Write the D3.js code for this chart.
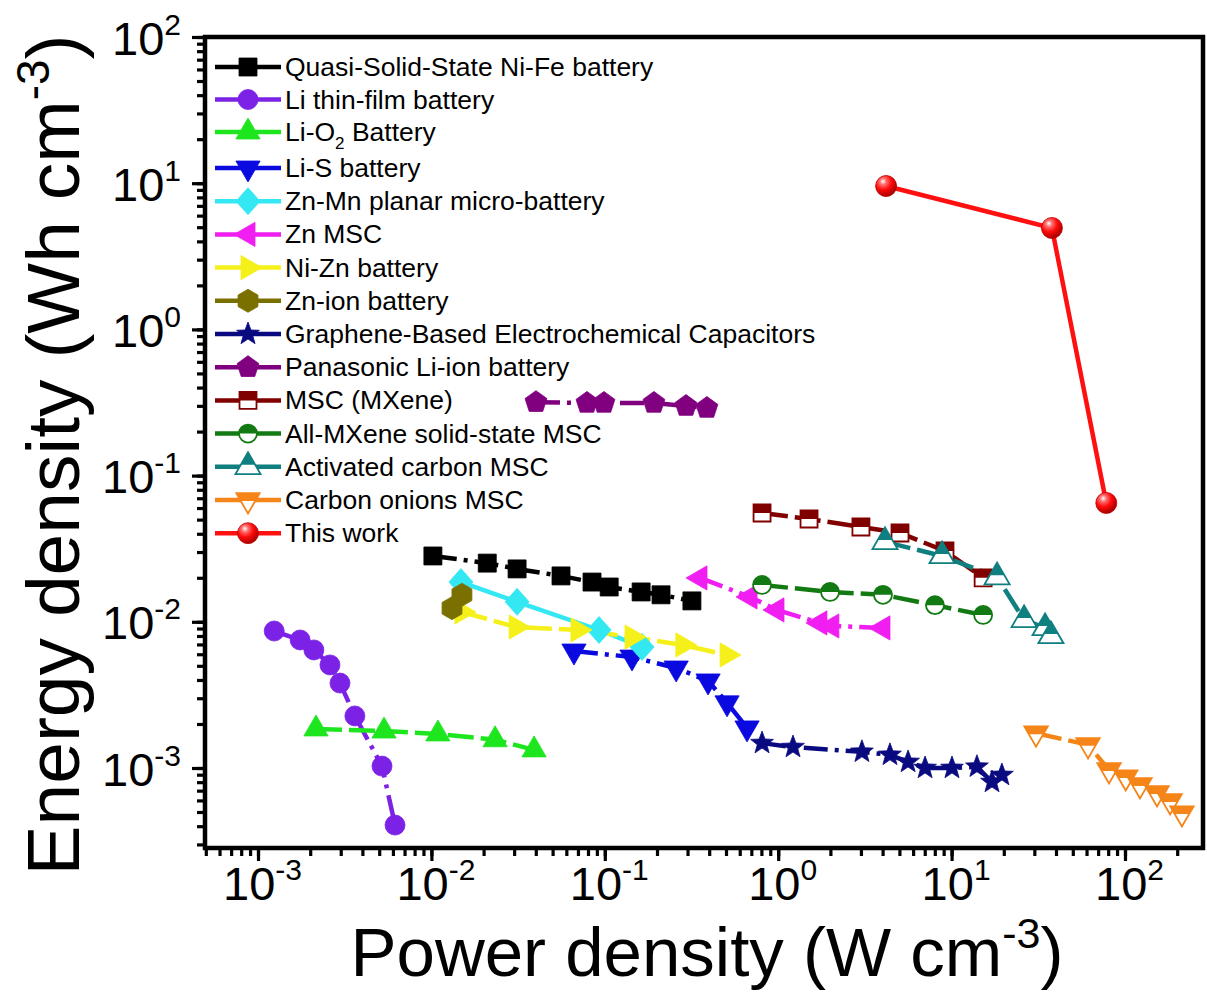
<!DOCTYPE html>
<html><head><meta charset="utf-8">
<script src="https://cdn.jsdelivr.net/npm/d3@7"></script>
<style>body{margin:0;background:#fff}svg{display:block}text{font-family:"Liberation Sans",Arial,sans-serif}</style>
</head><body>
<svg id="chart" width="1207" height="1002"></svg>
<script>
// ---------------- data ----------------
const seriesNames = [
  "Quasi-Solid-State Ni-Fe battery","Li thin-film battery","Li-O2 Battery","Li-S battery",
  "Zn-Mn planar micro-battery","Zn MSC","Ni-Zn battery","Zn-ion battery",
  "Graphene-Based Electrochemical Capacitors","Panasonic Li-ion battery","MSC (MXene)",
  "All-MXene solid-state MSC","Activated carbon MSC","Carbon onions MSC","This work"];
const seriesColors = ["#000000","#7b22e6","#1ee61e","#0a0ae0","#33e8f2","#f01ef0","#f5f01a","#7a7000",
  "#0a0a80","#800080","#800000","#137a13","#0f7f80","#f58518","#ff1010"];
const seriesMarkers = ["square","circle","triUp","triDown","diamond","triLeft","triRight","hexagon",
  "star","pentagon","squareHalf","circleHalf","triUpHalf","triDownHalf","sphere"];
const seriesDash = ["dashdot","dashdot","dash","dashdot","solid","dashdot","dash","solid",
  "dashdot","dashdot","dash","dash","dash","dash","solid"];

const niFePower = [0.0102,0.0210,0.0312,0.0559,0.0844,0.106,0.162,0.211,0.318];
const niFeEnergy = [0.0282,0.0252,0.0230,0.0206,0.0187,0.0173,0.0160,0.0153,0.0139];
const liThinPower = [0.00124,0.00175,0.00210,0.00260,0.00297,0.00362,0.00519,0.00617];
const liThinEnergy = [0.00865,0.00751,0.00642,0.00507,0.00381,0.00227,0.00103,0.000407];
const liO2Power = [0.00216,0.00533,0.0109,0.0233,0.0391];
const liO2Energy = [0.00185,0.00179,0.00171,0.00156,0.00133];
const liSPower = [0.0664,0.1435,0.258,0.394,0.507,0.661];
const liSEnergy = [0.00631,0.00574,0.00483,0.00394,0.00279,0.00188];
const znMnPower = [0.0148,0.0312,0.0927,0.164];
const znMnEnergy = [0.0187,0.0137,0.00879,0.00673];
const znMscPower = [0.354,0.688,0.984,1.74,2.04,4.02];
const znMscEnergy = [0.01995,0.01479,0.01205,0.00982,0.00936,0.00908];
const niZnPower = [0.0150,0.0308,0.0700,0.1435,0.282,0.507];
const niZnEnergy = [0.01167,0.00921,0.00879,0.00787,0.00694,0.00593];
const znIonPower = [0.0150,0.01315];
const znIonEnergy = [0.0153,0.0124];
const graphenePower = [0.807,1.217,3.04,4.41,5.61,7.03,10.05,14.0,17.1,19.5];
const grapheneEnergy = [0.00148,0.00139,0.00129,0.00123,0.00110,0.00100,0.00100,0.00102,0.000802,0.000895];
const panasonicPower = [0.0401,0.0789,0.0989,0.192,0.294,0.388];
const panasonicEnergy = [0.318,0.314,0.314,0.314,0.299,0.290];
const mxenePower = [0.807,1.506,3.00,5.04,9.16,15.2];
const mxeneEnergy = [0.0555,0.0505,0.0445,0.0405,0.0305,0.0200];
const allMxenePower = [0.807,1.99,4.02,8.02,15.2];
const allMxeneEnergy = [0.01786,0.0160,0.0153,0.0130,0.01114];
const acPower = [4.13,8.81,18.3,26.2,34.6,37.4];
const acEnergy = [0.0352,0.0282,0.0202,0.0103,0.00908,0.0080];
const onionPower = [30.7,61.2,80.9,101,122,153,182,213];
const onionEnergy = [0.00173,0.00144,0.000969,0.000867,0.000765,0.000675,0.000595,0.000492];
const thisWorkPower = [4.19,37.9,78];
const thisWorkEnergy = [9.57,4.94,0.065];

const xTickExps = [-3,-2,-1,0,1,2];
const yTickExps = [-3,-2,-1,0,1,2];

const powerArrays = [niFePower,liThinPower,liO2Power,liSPower,znMnPower,znMscPower,niZnPower,znIonPower,
  graphenePower,panasonicPower,mxenePower,allMxenePower,acPower,onionPower,thisWorkPower];
const energyArrays = [niFeEnergy,liThinEnergy,liO2Energy,liSEnergy,znMnEnergy,znMscEnergy,niZnEnergy,znIonEnergy,
  grapheneEnergy,panasonicEnergy,mxeneEnergy,allMxeneEnergy,acEnergy,onionEnergy,thisWorkEnergy];

const series = seriesNames.map((name,i)=>({
  name, color:seriesColors[i], marker:seriesMarkers[i], dash:seriesDash[i],
  pts: powerArrays[i].map((p,j)=>[p, energyArrays[i][j]])
}));

// ---------------- layout ----------------
const svg = d3.select("#chart");
const frame = {left:205, right:1203, top:37, bottom:848};
const x = d3.scaleLog().domain([1e-3,1e2]).range([258,1125]);
const y = d3.scaleLog().domain([1e-3,1e2]).range([768,37]);

const defs = svg.append("defs");
const grad = defs.append("radialGradient").attr("id","sphereGrad")
  .attr("cx","38%").attr("cy","32%").attr("r","70%").attr("fx","35%").attr("fy","28%");
grad.append("stop").attr("offset","0%").attr("stop-color","#ffffff");
grad.append("stop").attr("offset","22%").attr("stop-color","#ff7070");
grad.append("stop").attr("offset","55%").attr("stop-color","#ff0a0a");
grad.append("stop").attr("offset","100%").attr("stop-color","#a00000");
function addClip(id, yCut){
  defs.append("clipPath").attr("id",id).attr("clipPathUnits","userSpaceOnUse")
    .append("rect").attr("x",-40).attr("y",-40).attr("width",80).attr("height",40+yCut);
}
addClip("clipHalf",0); addClip("clipTriUp",-2); addClip("clipTriDown",1);

function poly(n, R, rot){
  const p=[];
  for(let k=0;k<n;k++){const a=rot+2*Math.PI*k/n;p.push([R*Math.cos(a),R*Math.sin(a)]);}
  return "M"+p.map(q=>q[0].toFixed(2)+","+q[1].toFixed(2)).join("L")+"Z";
}
function starPath(Ro, Ri){
  const p=[];
  for(let k=0;k<10;k++){const a=-Math.PI/2+Math.PI*k/5;const r=k%2?Ri:Ro;p.push([r*Math.cos(a),r*Math.sin(a)]);}
  return "M"+p.map(q=>q[0].toFixed(2)+","+q[1].toFixed(2)).join("L")+"Z";
}
const shapes = {
  square: ()=>d3.symbol(d3.symbolSquare, 18*18)(),
  circle: ()=>d3.symbol(d3.symbolCircle, Math.PI*10*10)(),
  triUp: ()=>poly(3,14,-Math.PI/2),
  triDown: ()=>poly(3,14,Math.PI/2),
  triLeft: ()=>poly(3,14,Math.PI),
  triRight: ()=>poly(3,14,0),
  diamond: ()=>"M0,-13.5L12,0L0,13.5L-12,0Z",
  hexagon: ()=>poly(6,11.5,-Math.PI/2),
  star: ()=>starPath(12,5),
  pentagon: ()=>poly(5,11.5,-Math.PI/2),
  squareHalf: ()=>d3.symbol(d3.symbolSquare, 17*17)(),
  circleHalf: ()=>d3.symbol(d3.symbolCircle, Math.PI*9*9)(),
  triUpHalf: ()=>poly(3,14.5,-Math.PI/2),
  triDownHalf: ()=>poly(3,13.5,Math.PI/2),
  sphere: ()=>d3.symbol(d3.symbolCircle, Math.PI*10.5*10.5)()
};
const halfClip = {squareHalf:"clipHalf", circleHalf:"clipHalf", triUpHalf:"clipTriUp", triDownHalf:"clipTriDown"};

function drawMarker(g, s){
  const d = shapes[s.marker]();
  if(halfClip[s.marker]){
    g.append("path").attr("d",d).attr("fill","#fff");
    g.append("path").attr("d",d).attr("fill",s.color).attr("clip-path","url(#"+halfClip[s.marker]+")");
    g.append("path").attr("d",d).attr("fill","none").attr("stroke",s.color).attr("stroke-width",1.8);
  } else if(s.marker==="sphere"){
    g.append("path").attr("d",d).attr("fill","url(#sphereGrad)").attr("stroke","#c00000").attr("stroke-width",0.8);
  } else {
    g.append("path").attr("d",d).attr("fill",s.color).attr("stroke",s.color).attr("stroke-width",0.8);
  }
}
const dashArr = {solid:null, dash:"26,7", dashdot:"24,7,4,7"};

// ---------------- axes ----------------
function minorTicks(lo, hi){
  const out=[];
  for(let e=-5;e<=3;e++) for(let k=1;k<=9;k++){const v=k*Math.pow(10,e); if(v>=lo && v<=hi) out.push(v);}
  return out;
}
const xLo=x.invert(frame.left), xHi=x.invert(frame.right);
const yLo=y.invert(frame.bottom), yHi=y.invert(frame.top);
const xMajor = xTickExps.map(e=>Math.pow(10,e));
const yMajor = yTickExps.map(e=>Math.pow(10,e));

const gxMinor = svg.append("g").attr("transform",`translate(0,${frame.bottom})`)
  .call(d3.axisBottom(x).tickValues(minorTicks(xLo,xHi)).tickSize(8).tickFormat(""));
const gx = svg.append("g").attr("transform",`translate(0,${frame.bottom})`)
  .call(d3.axisBottom(x).tickValues(xMajor).tickSize(13).tickFormat(""));
const gyMinor = svg.append("g").attr("transform",`translate(${frame.left},0)`)
  .call(d3.axisLeft(y).tickValues(minorTicks(yLo,yHi*1.0001)).tickSize(8).tickFormat(""));
const gy = svg.append("g").attr("transform",`translate(${frame.left},0)`)
  .call(d3.axisLeft(y).tickValues(yMajor).tickSize(13).tickFormat(""));
[gxMinor,gx,gyMinor,gy].forEach(g=>{g.select(".domain").remove();g.selectAll(".tick line").attr("stroke","#000").attr("stroke-width",3.2);});

function supText(sel, exp){
  sel.text(null);
  sel.append("tspan").text("10");
  sel.append("tspan").attr("dy",-20).attr("font-size",30).text(exp);
}
gx.selectAll(".tick").each(function(d){
  const t=d3.select(this).append("text").attr("fill","#000").attr("font-size",47)
    .attr("text-anchor","middle").attr("x",4).attr("y",52);
  supText(t, String(Math.round(Math.log10(d))));
});
gy.selectAll(".tick").each(function(d){
  const t=d3.select(this).append("text").attr("fill","#000").attr("font-size",47)
    .attr("text-anchor","end").attr("x",-24).attr("y",17);
  supText(t, String(Math.round(Math.log10(d))));
});

// frame
svg.append("rect").attr("x",frame.left).attr("y",frame.top)
  .attr("width",frame.right-frame.left).attr("height",frame.bottom-frame.top)
  .attr("fill","none").attr("stroke","#000").attr("stroke-width",4.5);

// axis titles
const xt = svg.append("text").attr("x",707).attr("y",976).attr("text-anchor","middle").attr("font-size",69).attr("fill","#000");
xt.append("tspan").text("Power density (W cm");
xt.append("tspan").attr("dy",-28).attr("font-size",43).text("-3");
xt.append("tspan").attr("dy",28).text(")");
const yt = svg.append("text").attr("transform","translate(79,455) rotate(-90)").attr("text-anchor","middle").attr("font-size",75).attr("fill","#000");
yt.append("tspan").text("Energy density (Wh cm");
yt.append("tspan").attr("dy",-30).attr("font-size",46).text("-3");
yt.append("tspan").attr("dy",30).text(")");

// ---------------- series ----------------
const line = d3.line().x(d=>x(d[0])).y(d=>y(d[1]));
const plotG = svg.append("g");
series.forEach(s=>{
  plotG.append("path").attr("d",line(s.pts)).attr("fill","none").attr("stroke",s.color)
    .attr("stroke-width",4.5).attr("stroke-dasharray",dashArr[s.dash]);
});
series.forEach(s=>{
  s.pts.forEach(p=>{
    const g=plotG.append("g").attr("transform",`translate(${x(p[0])},${y(p[1])})`);
    drawMarker(g,s);
  });
});

// ---------------- legend ----------------
const lg = svg.append("g");
series.forEach((s,i)=>{
  const cy = i<3 ? 67+32.5*i : 168+33.2*(i-3);
  lg.append("line").attr("x1",215).attr("x2",281).attr("y1",cy).attr("y2",cy)
    .attr("stroke",s.color).attr("stroke-width",4.5);
  const g = lg.append("g").attr("transform",`translate(248,${cy})`);
  drawMarker(g,s);
  const t = lg.append("text").attr("x",285).attr("y",cy+9).attr("font-size",26.5).attr("fill","#000");
  if(s.name==="Li-O2 Battery"){
    t.append("tspan").text("Li-O");
    t.append("tspan").attr("dy",8).attr("font-size",17).text("2");
    t.append("tspan").attr("dy",-8).text(" Battery");
  } else t.text(s.name);
});
</script>
</body></html>
